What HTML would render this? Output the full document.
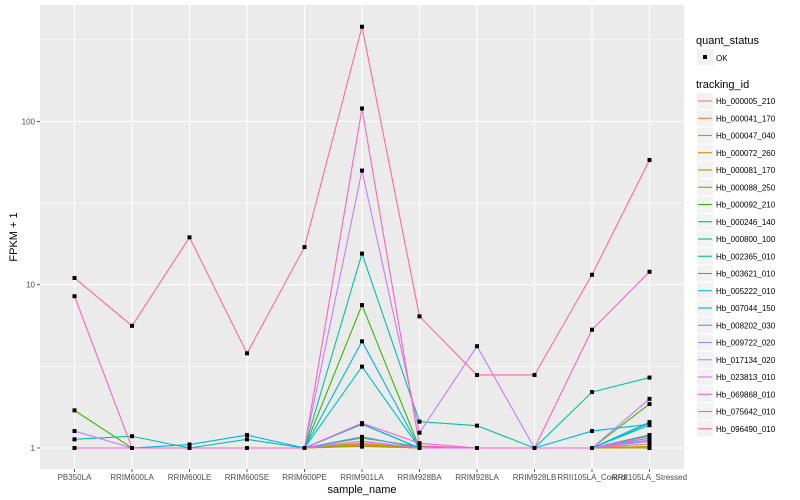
<!DOCTYPE html>
<html><head><meta charset="utf-8">
<style>
html,body{margin:0;padding:0;background:#fff;}
svg{display:block;font-family:"Liberation Sans",sans-serif;}
</style></head>
<body>
<svg id="chart" width="800" height="500" viewBox="0 0 800 500" xmlns="http://www.w3.org/2000/svg"></svg>
<script>
const samples = ["PB350LA","RRIM600LA","RRIM600LE","RRIM600SE","RRIM600PE","RRIM901LA","RRIM928BA","RRIM928LA","RRIM928LB","RRII105LA_Control","RRII105LA_Stressed"];
const trackingIds = ["Hb_000005_210","Hb_000041_170","Hb_000047_040","Hb_000072_260","Hb_000081_170","Hb_000088_250","Hb_000092_210","Hb_000246_140","Hb_000800_100","Hb_002365_010","Hb_003621_010","Hb_005222_010","Hb_007044_150","Hb_008202_030","Hb_009722_020","Hb_017134_020","Hb_023813_010","Hb_069868_010","Hb_075642_010","Hb_096490_010"];
const s00 = [1,1,1,1,1,1.02,1,1,1,1,1.06];
const s01 = [1,1,1,1,1,1.05,1,1,1,1,1];
const s02 = [1,1,1,1,1,1.07,1,1,1,1,1.02];
const s03 = [1,1,1,1,1,1.04,1,1,1,1,1];
const s04 = [1,1,1,1,1,1.03,1,1,1,1,1.02];
const s05 = [1,1,1,1,1,1.15,1.02,1,1,1,1.1];
const s06 = [1.7,1,1,1,1,7.5,1,1,1,1,1.86];
const s07 = [1,1,1,1,1,1.4,1,1,1,1,1.2];
const s08 = [1,1,1,1,1,1.4,1,1,1,1,1.42];
const s09 = [1.13,1.18,1,1.13,1,15.5,1.45,1.37,1,2.2,2.7];
const s10 = [1,1,1,1,1,3.15,1,1,1,1,1.38];
const s11 = [1,1,1,1,1,1.4,1,1,1,1,1.44];
const s12 = [1,1,1.05,1.2,1,4.5,1,1,1,1.27,1.4];
const s13 = [1,1,1,1,1,1.17,1,1,1,1,1.15];
const s14 = [1,1,1,1,1,1.1,1,1,1,1,1.1];
const s15 = [1.27,1,1,1,1,50,1.24,4.2,1,1,2.0];
const s16 = [1,1,1,1,1,1.1,1,1,1,1,1.12];
const s17 = [1,1,1,1,1,1.42,1.07,1,1,1,1.18];
const s18 = [8.5,1,1,1,1,120,1.03,1,1,5.3,12];
const s19 = [11,5.6,19.5,3.8,17,380,6.4,2.8,2.8,11.5,58];
const series = [s00,s01,s02,s03,s04,s05,s06,s07,s08,s09,s10,s11,s12,s13,s14,s15,s16,s17,s18,s19];
const yTicks = [1,10,100];
const yMinor = [Math.sqrt(10),Math.sqrt(1000),Math.sqrt(100000)];

const NS="http://www.w3.org/2000/svg";
const svg=document.getElementById('chart');
function el(tag,attrs,parent){const e=document.createElementNS(NS,tag);for(const k in attrs)e.setAttribute(k,attrs[k]);(parent||svg).appendChild(e);return e;}

const PL=40,PR=684,PT=5,PB=469;
const xStep=(PR-PL)/(samples.length-1+1.2);
function xScale(i){return PL+xStep*0.6+i*xStep;}
const Y1=448, DEC=163.3;
function yScale(v){return Y1-Math.log10(v)*DEC;}

function hcl(h,c,l){
  const hr=h*Math.PI/180;const L=l,U=c*Math.cos(hr),V=c*Math.sin(hr);
  const Xn=0.95047,Yn=1,Zn=1.08883;
  const un=4*Xn/(Xn+15*Yn+3*Zn),vn=9*Yn/(Xn+15*Yn+3*Zn);
  const Y=L>8?Yn*Math.pow((L+16)/116,3):Yn*L/903.3;
  const u=U/(13*L)+un,v=V/(13*L)+vn;
  const X=Y*9*u/(4*v),Z=Y*(12-3*u-20*v)/(4*v);
  let r=3.2406*X-1.5372*Y-0.4986*Z,g=-0.9689*X+1.8758*Y+0.0415*Z,b=0.0557*X-0.2040*Y+1.0570*Z;
  const f=t=>{t=t<=0.0031308?12.92*t:1.055*Math.pow(t,1/2.4)-0.055;return Math.round(Math.max(0,Math.min(1,t))*255);};
  return `rgb(${f(r)},${f(g)},${f(b)})`;
}
const colors=trackingIds.map((_,i)=>hcl(15+360/20*i,100,65));

const panel=el('rect',{x:PL,y:PT,width:PR-PL,height:PB-PT,fill:'#ebebeb'});


yMinor.forEach(v=>{const y=yScale(v);if(y>PT&&y<PB){const l=el('line',{x1:PL,x2:PR,y1:y,y2:y,stroke:'#fff','stroke-width':0.6});}});
yTicks.forEach(v=>{const y=yScale(v);const l=el('line',{x1:PL,x2:PR,y1:y,y2:y,stroke:'#fff','stroke-width':1.1});
  const tk=el('line',{x1:PL-3,x2:PL,y1:y,y2:y,stroke:'#333','stroke-width':0.8});
  const t=el('text',{x:PL-5,y:y+3,'text-anchor':'end','font-size':8,fill:'#4d4d4d'});t.textContent=v;});
samples.forEach((s,i)=>{const x=xScale(i);const l=el('line',{x1:x,x2:x,y1:PT,y2:PB,stroke:'#fff','stroke-width':1.1});
  const tk=el('line',{x1:x,x2:x,y1:PB,y2:PB+3,stroke:'#333','stroke-width':0.8});
  const t=el('text',{x:x,y:480,'text-anchor':'middle','font-size':8,fill:'#4d4d4d'});t.textContent=s;});

series.forEach((vals,si)=>{
  const p=el('polyline',{points:vals.map((v,i)=>xScale(i)+','+yScale(v)).join(' '),fill:'none',stroke:colors[si],'stroke-width':1.1});
  
  
});
series.forEach((vals,si)=>{vals.forEach((v,i)=>{
  const r=el('rect',{x:xScale(i)-2,y:yScale(v)-2,width:4,height:4,fill:'#000'});
  
  
});});

const xt=el('text',{x:362,y:493,'text-anchor':'middle','font-size':11,fill:'#000'});xt.textContent='sample_name';

const yt=el('text',{x:0,y:0,'text-anchor':'middle','font-size':11,fill:'#000',transform:'translate(17,237) rotate(-90)'});yt.textContent='FPKM + 1';


const lq=el('text',{x:696,y:44,'font-size':11,fill:'#000'});lq.textContent='quant_status';

el('rect',{x:697,y:49,width:16,height:16,fill:'#f2f2f2'});
el('rect',{x:703,y:55,width:4,height:4,fill:'#000'});
const ok=el('text',{x:716,y:61,'font-size':8,fill:'#000'});ok.textContent='OK';

const lt=el('text',{x:696,y:88,'font-size':11,fill:'#000'});lt.textContent='tracking_id';

trackingIds.forEach((id,i)=>{const cy=101+i*17.25;
  el('rect',{x:697,y:cy-8,width:16,height:16,fill:'#f2f2f2'});
  el('line',{x1:698,x2:712,y1:cy,y2:cy,stroke:colors[i],'stroke-width':1.1});
  const t=el('text',{x:716,y:cy+3,'font-size':8,fill:'#000'});t.textContent=id;
  });
</script>
</body></html>
